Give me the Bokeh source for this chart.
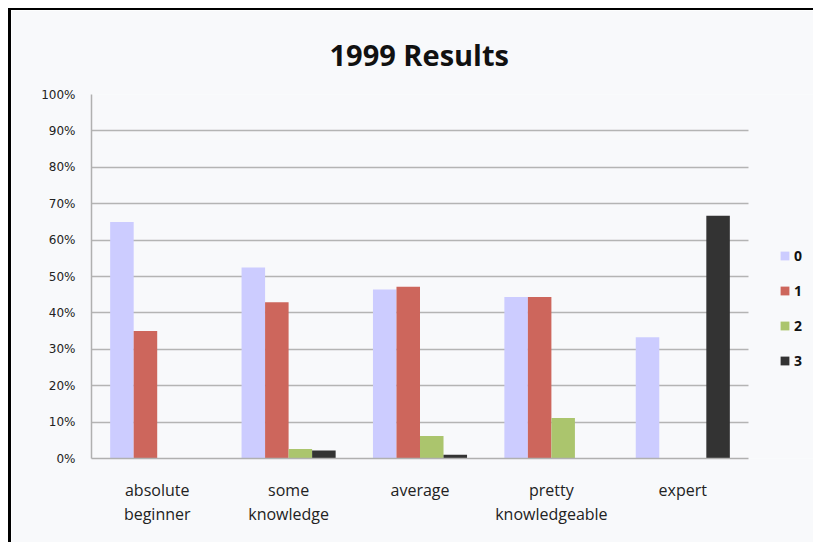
from bokeh.plotting import figure
from bokeh.models import (LinearAxis, NumeralTickFormatter, FixedTicker, Range1d)
from bokeh.embed import file_html
from bokeh.resources import INLINE

categories = ["absolute beginner", "some knowledge", "average", "pretty knowledgeable", "expert"]
line1 = ["absolute", "some", "average", "pretty", "expert"]
line2 = ["beginner", "knowledge", "", "knowledgeable", ""]
series_names = ["0", "1", "2", "3"]
s0 = [0.65, 0.525, 0.464, 0.444, 0.333]
s1 = [0.35, 0.429, 0.472, 0.444, 0.0]
s2 = [0.0, 0.026, 0.062, 0.111, 0.0]
s3 = [0.0, 0.022, 0.010, 0.0, 0.667]
colors = ["#ccccff", "#cd665c", "#abc56d", "#333333"]
y_ticks = [0.0, 0.1, 0.2, 0.3, 0.4, 0.5, 0.6, 0.7, 0.8, 0.9, 1.0]

n = len(categories)
centers = [i + 0.5 for i in range(n)]
x_end = n * 725 / 657.0  # extra room on the right for the legend

bg = "#f8f9fb"
p = figure(x_range=Range1d(0, x_end), y_range=Range1d(0, 1), width=805, height=534,
           output_backend="svg", toolbar_location=None,
           min_border_left=80, min_border_right=0, min_border_top=84, min_border_bottom=86,
           background_fill_color=bg, border_fill_color=bg, outline_line_color=None,
           title="1999 Results", x_axis_type=None)
p.styles = {"margin-left": "8px", "margin-top": "8px",
            "border-left": "3px solid black", "border-top": "2px solid black"}

p.title.align = "left"
p.title.offset = 238
p.title.text_font = "Open Sans"
p.title.text_font_size = "29px"
p.title.text_font_style = "bold"
p.title.text_color = "#111111"
p.title.standoff = 42

bw = 0.179
offsets = [-1.5 * bw, -0.5 * bw, 0.5 * bw, 1.5 * bw]
series = [s0, s1, s2, s3]
for i in range(4):
    xs = [c + offsets[i] for c in centers]
    p.vbar(x=xs, top=series[i], width=bw,
           fill_color=colors[i], line_color=None, legend_label=series_names[i])

# y axis
yax = p.yaxis[0]
yax.ticker = FixedTicker(ticks=y_ticks)
yax.formatter = NumeralTickFormatter(format="0%")
yax.major_tick_out = 0
yax.major_tick_in = 0
yax.minor_tick_out = 0
yax.minor_tick_in = 0
yax.major_label_standoff = 16
yax.major_label_text_font = "DejaVu Sans"
yax.major_label_text_font_size = "12px"
yax.major_label_text_color = "#222222"
yax.axis_line_color = "#b0b0b0"
yax.axis_line_width = 1.5

p.ygrid.grid_line_color = "#b4b4b4"
p.ygrid.grid_line_width = 1.5
p.ygrid.cross_bounds = (0, n)

def make_xaxis(labels, standoff, line_color):
    ax = LinearAxis(ticker=FixedTicker(ticks=centers), bounds=(0, n),
                    major_label_overrides={c: t for c, t in zip(centers, labels)})
    ax.major_tick_out = 0
    ax.major_tick_in = 0
    ax.minor_tick_out = 0
    ax.minor_tick_in = 0
    ax.major_label_standoff = standoff
    ax.major_label_text_font = "Open Sans"
    ax.major_label_text_font_size = "16px"
    ax.major_label_text_color = "#222222"
    ax.axis_line_color = line_color
    ax.axis_line_width = 1.5
    return ax

p.add_layout(make_xaxis(line1, 20, "#b0b0b0"), "below")
p.add_layout(make_xaxis(line2, -1, None), "below")

lg = p.legend[0]
lg.location = (688, 88)
lg.padding = 0
lg.margin = 0
lg.border_line_color = None
lg.background_fill_alpha = 0
lg.glyph_width = 11
lg.glyph_height = 11
lg.label_height = 12
lg.spacing = 16
lg.label_standoff = 4
lg.label_text_font = "Open Sans"
lg.label_text_font_style = "bold"
lg.label_text_font_size = "14px"
lg.label_text_color = "#111111"

open("out.html", "w").write(file_html(p, INLINE))
